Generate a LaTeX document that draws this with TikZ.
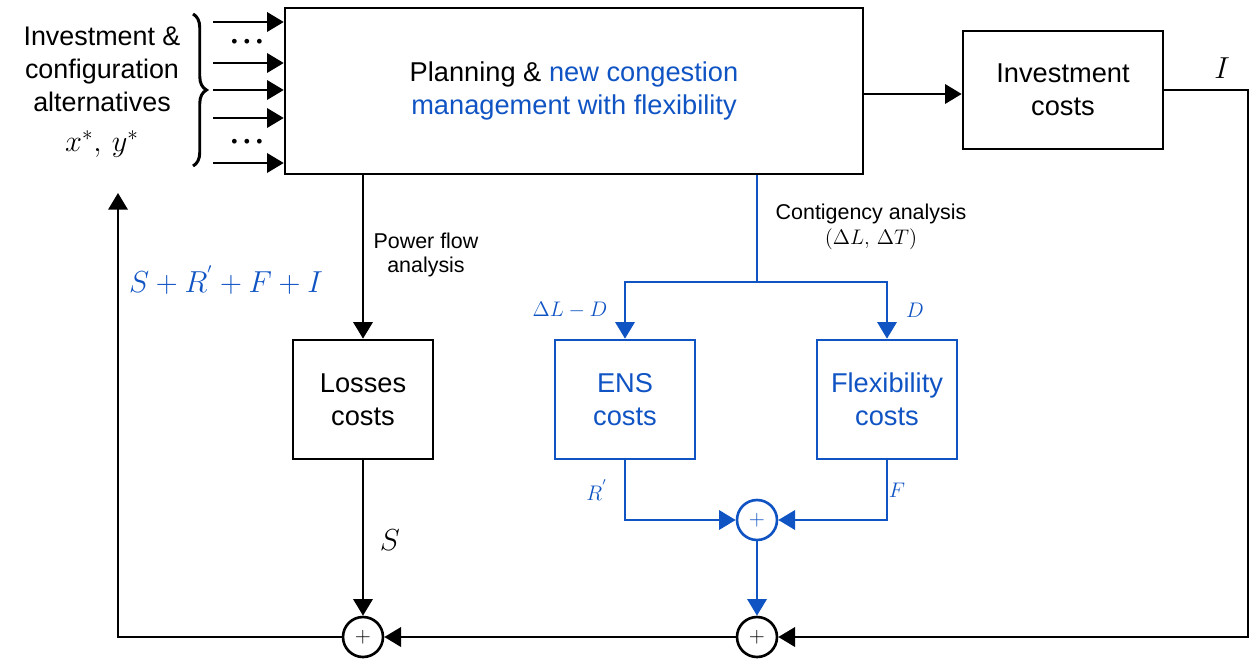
\documentclass[tikz,border=0pt]{standalone}
\usepackage{fontspec}
\setmainfont{Liberation Sans}
\usetikzlibrary{arrows.meta,decorations.pathreplacing,calc}
\definecolor{cblue}{RGB}{16,84,196}
\begin{document}
\begin{tikzpicture}[x=0.02cm,y=-0.02cm,
  box/.style={draw, line width=1.5pt, align=center, inner sep=0pt, font=\fontsize{15.5}{19}\selectfont},
  bbox/.style={box, draw=cblue, text=cblue},
  sumc/.style={circle, draw, line width=1.5pt, minimum size=0.8cm, inner sep=0pt, font=\fontsize{13}{13}\selectfont},
  bsumc/.style={sumc, draw=cblue, text=cblue},
  arr/.style={-{Triangle[length=9.5pt,width=11pt]}, line width=1.5pt},
  barr/.style={arr, draw=cblue, color=cblue},
  bline/.style={line width=1.6pt, draw=cblue},
  lab/.style={font=\fontsize{12.2}{14}\selectfont, align=center},
  mlab/.style={font=\fontsize{16.5}{18}\selectfont},
  smlab/.style={font=\fontsize{13}{14}\selectfont, text=cblue}
]
\useasboundingbox (0,0) rectangle (1253,662);

% boxes
\node[box, minimum width=11.56cm, minimum height=3.32cm] (main) at (574,91)
  {Planning \& \textcolor{cblue}{new congestion}\\ \textcolor{cblue}{management with flexibility}};
\node[box, minimum width=4.0cm, minimum height=2.36cm] (inv) at (1063,90) {Investment\\costs};
\node[box, minimum width=2.8cm, minimum height=2.38cm] (los) at (363,399.5) {Losses\\costs};
\node[bbox, minimum width=2.8cm, minimum height=2.38cm] (ens) at (625,399.5) {ENS\\costs};
\node[bbox, minimum width=2.8cm, minimum height=2.38cm] (flex) at (887,399.5) {Flexibility\\costs};

% summation circles
\node[bsumc] (bsum) at (757,520) {$+$};
\node[sumc] (sum1) at (363,637) {$+$};
\node[sumc] (sum2) at (757,637) {$+$};

% helper coordinates
\coordinate (split) at (757,282);
\coordinate (ir) at (1248,637);
\coordinate (fb) at (118,193);
\coordinate (ia) at (863,94);

% left input text and brace
\node[align=center, font=\fontsize{15.3}{18.7}\selectfont] (alt) at (102,92)
  {Investment \&\\configuration\\alternatives\\[4pt] {\fontsize{17}{18}\selectfont$x^{*},\,y^{*}$}};
\coordinate (bt) at (193,14);
\coordinate (bb) at (193,166);
\draw[line width=1.7pt, decorate, decoration={brace, amplitude=0.27cm}] (bt) -- (bb);

% input arrows
\foreach \yy/\nm in {22/a1, 63/a2, 90/a3, 118/a4, 163/a5} {
  \coordinate (\nm) at (213,\yy);
  \draw[arr] (\nm) -- (\nm -| main.west);
}
\node[font=\fontsize{10}{10}\selectfont, inner sep=0pt] (d1) at (247,43) {\textbullet\hspace{3.6pt}\textbullet\hspace{3.6pt}\textbullet};
\node[font=\fontsize{10}{10}\selectfont, inner sep=0pt] (d2) at (247,143) {\textbullet\hspace{3.6pt}\textbullet\hspace{3.6pt}\textbullet};

% main to investment
\draw[arr] (ia) -- (ia -| inv.west);
\draw[arr] (inv.east) -| (ir) -- (sum2.east);
\node[mlab] (Il) at (1222,68) {$I$};

% power flow
\draw[arr] (main.south -| los) -- (los.north);
\node[lab] (pfa) at (426,255) {Power flow\\analysis};

% contingency
\draw[bline] (main.south -| split) -- (split);
\draw[barr] (split) -| (ens.north);
\draw[barr] (split) -| (flex.north);
\node[lab] (ca) at (871,227) {Contigency analysis\\$(\Delta L,\,\Delta T)$};
\node[smlab] (dld) at (570,310) {$\Delta L - D$};
\node[smlab] (dl) at (915,310) {$D$};

% blue sums
\draw[barr] (ens.south) |- (bsum.west);
\draw[barr] (flex.south) |- (bsum.east);
\node[smlab] (rl) at (597,490) {$R^{'}$};
\node[smlab] (fl) at (897,490) {$F$};
\draw[barr] (bsum.south) -- (sum2.north);

% losses to sum
\draw[arr] (los.south) -- (sum1.north);
\node[mlab] (sl) at (390,540) {$S$};
\draw[arr] (sum2.west) -- (sum1.east);

% feedback
\draw[arr] (sum1.west) -| (fb);
\node[mlab, text=cblue] (tot) at (226,280) {$S+R^{'}+F+I$};
\end{tikzpicture}
\end{document}
